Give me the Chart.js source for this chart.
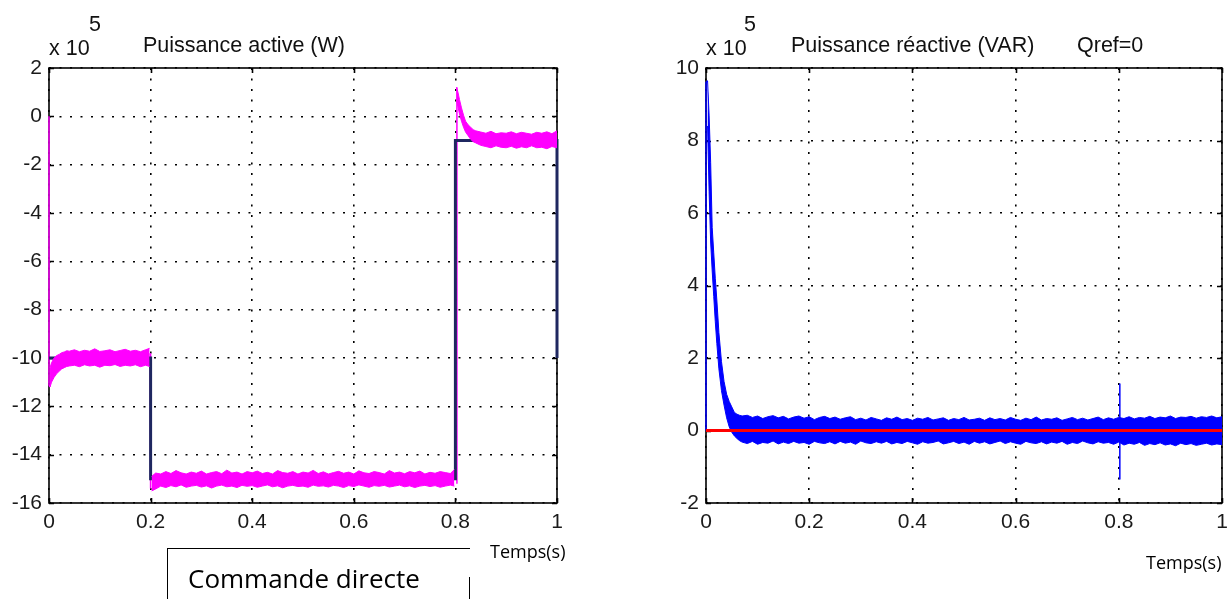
<!DOCTYPE html>
<html>
<head>
<meta charset="utf-8">
<script src="https://cdn.jsdelivr.net/npm/chart.js@4.4.1/dist/chart.umd.min.js"></script>
<style>
  body { margin: 0; width: 1230px; height: 599px; background: #fff; position: relative; overflow: hidden; }
  canvas { position: absolute; top: 0; }
  .t { position: absolute; white-space: nowrap; line-height: 1; color: #111; font-family: "Liberation Sans", Arial, sans-serif; font-size: 21.5px; }
  .c { position: absolute; white-space: nowrap; line-height: 1; color: #000; font-family: "Open Sans", sans-serif; }
  .ln { position: absolute; background: #000; }
</style>
</head>
<body>
<canvas id="pChart" width="600" height="560" style="left:0"></canvas>
<canvas id="qChart" width="590" height="560" style="left:640px"></canvas>

<div class="t" style="left:49px; top:38px">x 10</div>
<div class="t" style="left:89px; top:14px">5</div>
<div class="t" style="left:143px; top:35px">Puissance active (W)</div>

<div class="t" style="left:706px; top:38px">x 10</div>
<div class="t" style="left:744px; top:14px">5</div>
<div class="t" style="left:791px; top:35px">Puissance réactive (VAR)</div>
<div class="t" style="left:1077px; top:35px">Qref=0</div>

<div class="c" style="left:490px; top:542px; font-size:18px">Temps(s)</div>
<div class="c" style="left:1146px; top:553px; font-size:18px">Temps(s)</div>

<div class="ln" style="left:167px; top:548px; width:1px; height:51px"></div>
<div class="ln" style="left:167px; top:548px; width:303px; height:1px"></div>
<div class="ln" style="left:469px; top:577px; width:1px; height:22px"></div>
<div class="c" style="left:188px; top:565px; font-size:26px">Commande directe</div>

<script>
// axis ticks
const xTicks = [0, 0.2, 0.4, 0.6, 0.8, 1];
const pTicks = [2, 0, -2, -4, -6, -8, -10, -12, -14, -16];
const qTicks = [10, 8, 6, 4, 2, 0, -2];

// active power reference (x 10^5 W)
const refT = [0, 0.2, 0.2, 0.8, 0.8, 1, 1];
const refP = [-10, -10, -15, -15, -1, -1, -10];

// measured active power: noisy band, upper / lower edges per step
const xA = [0.002, 0.005, 0.01, 0.015, 0.02, 0.025, 0.03, 0.035, 0.04, 0.05, 0.06, 0.07, 0.08, 0.09, 0.10, 0.11, 0.12, 0.13, 0.14, 0.15, 0.16, 0.17, 0.18, 0.19, 0.198];
const upperA = [-10.4, -10.2, -10.0, -9.9, -9.85, -9.78, -9.75, -9.7, -9.72, -9.66, -9.74, -9.68, -9.72, -9.62, -9.73, -9.7, -9.66, -9.74, -9.69, -9.64, -9.72, -9.68, -9.74, -9.66, -9.6];
const lowerA = [-11.2, -11.0, -10.8, -10.65, -10.55, -10.45, -10.4, -10.35, -10.33, -10.3, -10.36, -10.28, -10.33, -10.3, -10.38, -10.3, -10.32, -10.27, -10.35, -10.3, -10.33, -10.28, -10.36, -10.3, -10.35];

const xB = [0.202, 0.21, 0.22, 0.23, 0.24, 0.25, 0.26, 0.27, 0.28, 0.29, 0.30, 0.31, 0.32, 0.33, 0.34, 0.35, 0.36, 0.37, 0.38, 0.39,
  0.40, 0.41, 0.42, 0.43, 0.44, 0.45, 0.46, 0.47, 0.48, 0.49, 0.50, 0.51, 0.52, 0.53, 0.54, 0.55, 0.56, 0.57, 0.58, 0.59,
  0.60, 0.61, 0.62, 0.63, 0.64, 0.65, 0.66, 0.67, 0.68, 0.69, 0.70, 0.71, 0.72, 0.73, 0.74, 0.75, 0.76, 0.77, 0.78, 0.79, 0.798];
const upperB = [-14.9, -14.76, -14.8, -14.7, -14.78, -14.66, -14.75, -14.8, -14.72, -14.77,
  -14.68, -14.8, -14.74, -14.7, -14.79, -14.64, -14.76, -14.72, -14.8, -14.7,
  -14.75, -14.68, -14.78, -14.73, -14.8, -14.66, -14.74, -14.77, -14.7, -14.8,
  -14.72, -14.76, -14.65, -14.78, -14.71, -14.8, -14.74, -14.69, -14.77, -14.72,
  -14.8, -14.67, -14.75, -14.78, -14.7, -14.74, -14.8, -14.66, -14.76, -14.72,
  -14.79, -14.7, -14.75, -14.68, -14.8, -14.73, -14.77, -14.7, -14.74, -14.78, -14.62];
const lowerB = [-15.5, -15.42, -15.3, -15.36, -15.28, -15.33, -15.25, -15.35, -15.3, -15.27,
  -15.34, -15.29, -15.38, -15.3, -15.26, -15.33, -15.3, -15.36, -15.27, -15.31,
  -15.28, -15.35, -15.3, -15.25, -15.33, -15.29, -15.37, -15.3, -15.27, -15.32,
  -15.3, -15.35, -15.26, -15.31, -15.29, -15.34, -15.27, -15.3, -15.36, -15.28,
  -15.32, -15.25, -15.3, -15.35, -15.28, -15.31, -15.27, -15.34, -15.3, -15.26,
  -15.33, -15.29, -15.36, -15.3, -15.27, -15.32, -15.28, -15.35, -15.3, -15.26, -15.3];

const xC = [0.802, 0.805, 0.808, 0.812, 0.816, 0.82, 0.825, 0.83, 0.835, 0.84, 0.85, 0.86, 0.87, 0.88, 0.89, 0.9, 0.91, 0.92, 0.93, 0.94, 0.95, 0.96, 0.97, 0.98, 0.99, 1.0];
const upperC = [1.2, 1.0, 0.7, 0.35, 0.05, -0.2, -0.35, -0.45, -0.55, -0.6, -0.65, -0.7, -0.62, -0.72, -0.68, -0.7, -0.64, -0.72, -0.66, -0.7, -0.74, -0.66, -0.7, -0.64, -0.72, -0.6];
const lowerC = [0.7, 0.4, 0.1, -0.2, -0.45, -0.65, -0.8, -0.95, -1.05, -1.1, -1.2, -1.25, -1.3, -1.22, -1.28, -1.3, -1.24, -1.32, -1.26, -1.3, -1.22, -1.3, -1.28, -1.34, -1.25, -1.3];

// steep edges of the measured active power (null = break)
const edgePT = [0, 0, 0.002, 0.002, 0.199, 0.2, 0.2, 0.803, 0.803];
const edgeP = [0, -11.1, -11.2, null, -9.8, -15.4, null, -15.2, 1.2];

// reactive power (x 10^5 VAR)
const xD = [0.003, 0.006, 0.009, 0.012, 0.015, 0.018, 0.021, 0.025, 0.03, 0.035, 0.04, 0.045, 0.05, 0.055, 0.06, 0.065, 0.07,
  0.08, 0.09, 0.10, 0.11, 0.12, 0.13, 0.14, 0.15, 0.16, 0.17, 0.18, 0.19, 0.20, 0.21, 0.22, 0.23, 0.24, 0.25, 0.26, 0.27,
  0.28, 0.29, 0.30, 0.31, 0.32, 0.33, 0.34, 0.35, 0.36, 0.37, 0.38, 0.39, 0.40, 0.41, 0.42, 0.43, 0.44, 0.45, 0.46, 0.47,
  0.48, 0.49, 0.50, 0.51, 0.52, 0.53, 0.54, 0.55, 0.56, 0.57, 0.58, 0.59, 0.60, 0.61, 0.62, 0.63, 0.64, 0.65, 0.66, 0.67,
  0.68, 0.69, 0.70, 0.71, 0.72, 0.73, 0.74, 0.75, 0.76, 0.77, 0.78, 0.79, 0.80, 0.81, 0.82, 0.83, 0.84, 0.85, 0.86, 0.87,
  0.88, 0.89, 0.90, 0.91, 0.92, 0.93, 0.94, 0.95, 0.96, 0.97, 0.98, 0.99, 1.00];
const upperD = [9.65, 8.7, 7.4, 5.6, 4.9, 4.2, 3.6, 2.7, 1.9, 1.35, 1.0, 0.8, 0.65, 0.5, 0.45, 0.42, 0.4,
  0.42, 0.36, 0.4, 0.33, 0.38, 0.41, 0.35, 0.39, 0.32, 0.37,
  0.4, 0.34, 0.38, 0.3, 0.36, 0.39, 0.33, 0.37, 0.31, 0.35,
  0.38, 0.3, 0.34, 0.29, 0.36, 0.32, 0.28, 0.35, 0.31, 0.37,
  0.3, 0.33, 0.28, 0.34, 0.31, 0.36, 0.29, 0.32, 0.35, 0.28,
  0.33, 0.3, 0.36, 0.29, 0.31, 0.34, 0.28, 0.35, 0.3, 0.33,
  0.29, 0.36, 0.31, 0.28, 0.34, 0.3, 0.37, 0.29, 0.33, 0.31,
  0.35, 0.28, 0.32, 0.36, 0.3, 0.34, 0.29, 0.33, 0.37, 0.3,
  0.35, 0.31, 0.36, 0.33, 0.38, 0.32, 0.36, 0.34, 0.39, 0.33,
  0.37, 0.35, 0.4, 0.33, 0.37, 0.36, 0.39, 0.34, 0.38, 0.36,
  0.4, 0.35, 0.38];
const lowerD = [8.4, 6.6, 5.2, 4.4, 3.7, 3.0, 2.4, 1.7, 1.1, 0.7, 0.35, 0.1, -0.05, -0.15, -0.22, -0.28, -0.32,
  -0.36, -0.3, -0.38, -0.33, -0.35, -0.29, -0.37, -0.32, -0.36, -0.3,
  -0.35, -0.33, -0.38, -0.3, -0.34, -0.36, -0.31, -0.37, -0.3, -0.35,
  -0.32, -0.38, -0.29, -0.34, -0.36, -0.31, -0.35, -0.3, -0.37, -0.33,
  -0.36, -0.3, -0.34, -0.38, -0.31, -0.35, -0.33, -0.29, -0.37, -0.34,
  -0.3, -0.36, -0.32, -0.38, -0.3, -0.35, -0.31, -0.37, -0.33, -0.29,
  -0.36, -0.31, -0.35, -0.38, -0.3, -0.34, -0.36, -0.31, -0.37, -0.32,
  -0.35, -0.3, -0.38, -0.33, -0.36, -0.29, -0.34, -0.37, -0.31, -0.35,
  -0.33, -0.38, -0.32, -0.4, -0.35, -0.38, -0.33, -0.41, -0.36, -0.39,
  -0.34, -0.4, -0.37, -0.42, -0.35, -0.39, -0.36, -0.41, -0.38, -0.35,
  -0.4, -0.37, -0.39];

const edgeQT = [0, 0, 0.003, 0.003, 0.802, 0.802];
const edgeQ = [0, 9.6, 9.65, null, -1.35, 1.3];

const qRefT = [0, 1];
const qRef = [0, 0];

const pts = (xs, ys) => xs.map((x, i) => ({ x: x, y: ys[i] }));

const PINK = '#ff00ff';
const NAVY = '#1f2760';
const BLUE = '#0000ff';
const FONT = { family: '"Liberation Sans", Arial, sans-serif', size: 21 };

// box around the plot + small inward ticks
const framePlugin = {
    id: 'frame',
    beforeDatasetsDraw(chart) {
        const { ctx, chartArea: a, scales } = chart;
        ctx.save();
        ctx.strokeStyle = '#000';
        ctx.lineWidth = 1.6;
        ctx.strokeRect(a.left, a.top, a.right - a.left, a.bottom - a.top);
        ctx.beginPath();
        scales.x.ticks.forEach(t => {
            const px = Math.round(scales.x.getPixelForValue(t.value)) + 0.5;
            ctx.moveTo(px, a.bottom); ctx.lineTo(px, a.bottom - 5);
            ctx.moveTo(px, a.top); ctx.lineTo(px, a.top + 5);
        });
        scales.y.ticks.forEach(t => {
            const py = Math.round(scales.y.getPixelForValue(t.value)) + 0.5;
            ctx.moveTo(a.left, py); ctx.lineTo(a.left + 5, py);
            ctx.moveTo(a.right, py); ctx.lineTo(a.right - 5, py);
        });
        ctx.stroke();
        ctx.restore();
    }
};

function makeOptions(yTicks, yWidth, rightPad) {
    return {
        responsive: false,
        animation: false,
        devicePixelRatio: 1,
        layout: { padding: { top: 68, right: rightPad, left: 0, bottom: 0 } },
        plugins: { legend: { display: false }, tooltip: { enabled: false } },
        elements: { point: { radius: 0 }, line: { tension: 0 } },
        scales: {
            x: {
                type: 'linear',
                min: 0, max: 1,
                afterBuildTicks: s => { s.ticks = xTicks.map(v => ({ value: v })); },
                afterFit: s => { s.height = 57; s.paddingLeft = 0; s.paddingRight = 0; },
                ticks: { font: FONT, color: '#1a1a1a', padding: 7, maxRotation: 0, callback: v => String(+v.toFixed(1)) },
                grid: { color: '#000', lineWidth: 1.6, drawTicks: false },
                border: { display: false, dash: [2, 8.5] }
            },
            y: {
                min: yTicks[yTicks.length - 1], max: yTicks[0],
                afterBuildTicks: s => { s.ticks = yTicks.map(v => ({ value: v })); },
                afterFit: s => { s.width = yWidth; s.paddingTop = 0; s.paddingBottom = 0; },
                ticks: { font: FONT, color: '#1a1a1a', padding: 7, callback: v => String(v) },
                grid: { color: '#000', lineWidth: 1.6, drawTicks: false },
                border: { display: false, dash: [2, 8.5] }
            }
        }
    };
}

// noisy band: upper edge filled down to the lower edge
function band(xs, up, lo, color, order, idx) {
    return [
        { data: pts(xs, up), borderColor: color, backgroundColor: color, borderWidth: 1, fill: idx + 1, order: order },
        { data: pts(xs, lo), borderColor: color, backgroundColor: color, borderWidth: 1, fill: false, order: order }
    ];
}

new Chart(document.getElementById('pChart'), {
    type: 'line',
    data: {
        datasets: [
            ...band(xA, upperA, lowerA, PINK, 1, 0),
            ...band(xB, upperB, lowerB, PINK, 1, 2),
            ...band(xC, upperC, lowerC, PINK, 1, 4),
            { data: pts(edgePT, edgeP), borderColor: PINK, borderWidth: 1.5, fill: false, spanGaps: false, clip: false, order: 3 },
            { data: pts(refT, refP), borderColor: NAVY, borderWidth: 3, fill: false, clip: false, order: 2 }
        ]
    },
    options: makeOptions(pTicks, 49, 43),
    plugins: [framePlugin]
});

new Chart(document.getElementById('qChart'), {
    type: 'line',
    data: {
        datasets: [
            ...band(xD, upperD, lowerD, BLUE, 1, 0),
            { data: pts(edgeQT, edgeQ), borderColor: BLUE, borderWidth: 1.5, fill: false, spanGaps: false, clip: false, order: 1 },
            { data: pts(qRefT, qRef), borderColor: '#ff0000', borderWidth: 3, fill: false, order: 0 }
        ]
    },
    options: makeOptions(qTicks, 66, 8),
    plugins: [framePlugin]
});
</script>
</body>
</html>
